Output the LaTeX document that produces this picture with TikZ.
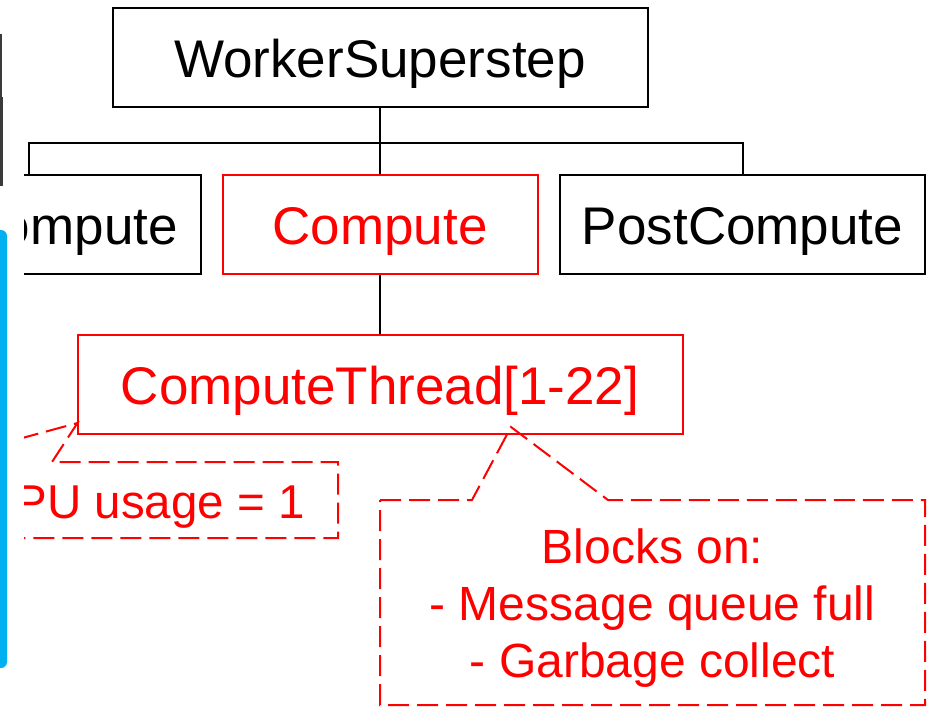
\documentclass[tikz,border=0pt]{standalone}
\usepackage{fontspec}
\setmainfont{Liberation Sans}
\definecolor{barblue}{HTML}{00B0F0}
\definecolor{edgegray}{HTML}{3A3A3A}
\begin{document}
\begin{tikzpicture}[x=1pt,y=-1pt,
  bx/.style={draw=black, line width=2pt, rectangle, inner sep=0pt, minimum height=99pt,
    text height=39pt, text depth=0pt, font=\fontsize{53pt}{57pt}\selectfont},
  rbx/.style={bx, draw=red, text=red},
  conn/.style={draw=black, line width=2pt},
  callout/.style={draw=red, line width=2pt, dash pattern=on 21pt off 8pt, line join=miter},
  ctext/.style={text=red, font=\fontsize{48pt}{57pt}\selectfont, inner sep=0pt, anchor=base}]
\useasboundingbox (0,0) rectangle (930,707);
\fill[white] (0,0) rectangle (930,707);
\begin{scope}
  \clip (24,0) rectangle (930,707);
  \node[bx, minimum width=535pt] (ws) at (380,57.5) {WorkerSuperstep};
  \node[bx, minimum width=344pt] (pre) at (29,224.5) {PreCompute};
  \node[rbx, minimum width=315pt] (comp) at (380,224.5) {Compute};
  \node[bx, minimum width=365pt] (post) at (742.5,224.5) {PostCompute};
  \node[rbx, minimum width=605pt] (ct) at (380,384.5) {ComputeThread[1-22]};
  \draw[conn] (ws.south) -- (380,143) coordinate (jn);
  \draw[conn] (pre.north) |- (jn) -| (post.north);
  \draw[conn] (jn) -- (comp.north);
  \draw[conn] (comp.south) -- (ct.north);
  % left callout
  \coordinate (tipL) at (77.5,423);
  \draw[callout] (-66,462) -- (tipL) -- (52,462) -- (338,462) -- (338,538) -- (-66,538) -- cycle;
  \node[ctext, font=\fontsize{47.5pt}{57pt}\selectfont] (cpu) at (143,518) {CPU usage = 1};
  % right callout
  \coordinate (tipR) at (511,427);
  \draw[callout] (380,500) -- (472,500) -- (tipR) -- (608,500) -- (925,500) -- (925,705) -- (380,705) -- cycle;
  \node[ctext] (b1) at (652.5,563) {Blocks on:};
  \node[ctext] (b2) at (652.5,620) {- Message queue full};
  \node[ctext] (b3) at (652.5,677) {- Garbage collect};
\end{scope}
\fill[barblue, rounded corners=6pt] (-20,230) rectangle (7,668);
\draw[edgegray, line width=1.5pt] (0.75,34) -- (0.75,97);
\draw[edgegray, line width=3pt] (1.5,97) -- (1.5,186);
\end{tikzpicture}
\end{document}
